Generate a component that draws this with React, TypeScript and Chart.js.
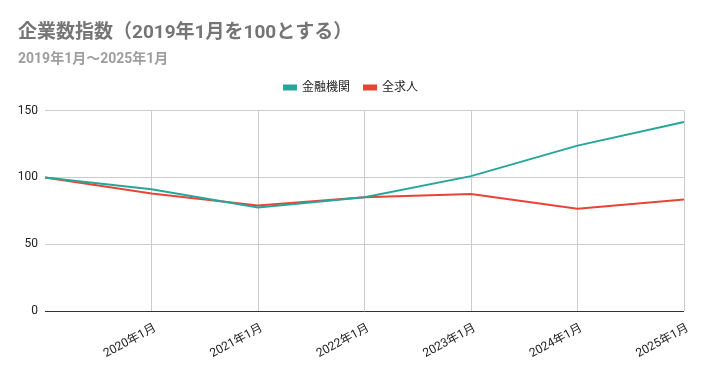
import React, { useEffect, useRef } from "react";
import { Chart, registerables } from "chart.js";

Chart.register(...registerables);

const categories = ["2019年1月", "2020年1月", "2021年1月", "2022年1月", "2023年1月", "2024年1月", "2025年1月"];
const finance = [100, 91.2, 77.6, 85.2, 101, 123.8, 141.4];
const allJobs = [100, 88, 79.1, 85.2, 87.7, 76.6, 83.6];
const yTicks = [0, 50, 100, 150];
const titleText = "企業数指数（2019年1月を100とする）";
const subtitleText = "2019年1月～2025年1月";

const FONT = "Roboto, 'Noto Sans CJK JP', Arial, sans-serif";

const legendSpacer = {
  id: "legendSpacer",
  beforeInit(chart: any) {
    const orig = chart.legend.fit;
    chart.legend.fit = function () {
      orig.bind(chart.legend)();
      this.height += 7;
    };
  },
};

export default function App() {
  const ref = useRef<HTMLCanvasElement>(null);
  useEffect(() => {
    document.body.style.margin = "0";
    const chart = new Chart(ref.current!, {
      type: "line",
      data: {
        labels: categories,
        datasets: [
          { label: "金融機関", data: finance, borderColor: "#26a69a", backgroundColor: "#26a69a", borderWidth: 2, pointRadius: 0, tension: 0 },
          { label: "全求人", data: allJobs, borderColor: "#ea4335", backgroundColor: "#ea4335", borderWidth: 2, pointRadius: 0, tension: 0 },
        ],
      },
      plugins: [legendSpacer],
      options: {
        responsive: false,
        animation: false,
        layout: { padding: { left: 18, right: 20, top: 10, bottom: 0 } },
        plugins: {
          title: {
            display: true,
            text: titleText,
            align: "start",
            color: "#757575",
            font: { family: FONT, size: 19, weight: "bold" },
            padding: { top: 12, bottom: 6 },
          },
          subtitle: {
            display: true,
            text: subtitleText,
            align: "start",
            color: "#9e9e9e",
            font: { family: FONT, size: 14, weight: "bold" },
            padding: { bottom: 0 },
          },
          legend: {
            position: "top",
            labels: {
              boxWidth: 12,
              boxHeight: 4,
              color: "#222222",
              font: { family: FONT, size: 12 },
              padding: 14,
            },
          },
          tooltip: { enabled: false },
        },
        scales: {
          x: {
            offset: false,
            grid: {
              color: (ctx: any) => (ctx.index === 0 ? "rgba(0,0,0,0)" : "#cccccc"),
              drawTicks: false,
            },
            border: { display: false },
            ticks: {
              color: "#222222",
              font: { family: FONT, size: 12 },
              maxRotation: 28,
              minRotation: 28,
              padding: 10,
              labelOffset: 4,
              autoSkip: false,
              callback: (_v: any, i: number) => (i === 0 ? "" : categories[i]),
            },
          },
          y: {
            min: 0,
            max: 150,
            afterBuildTicks: (axis: any) => {
              axis.ticks = yTicks.map((v) => ({ value: v }));
            },
            afterFit: (axis: any) => {
              axis.width = 27;
            },
            grid: {
              color: (ctx: any) => (ctx.tick && ctx.tick.value === 0 ? "#333333" : "#cccccc"),
              drawTicks: false,
            },
            border: { display: false },
            ticks: {
              color: "#222222",
              font: { family: FONT, size: 12 },
              padding: 7,
            },
          },
        },
      },
    });
    return () => chart.destroy();
  }, []);
  return <canvas ref={ref} width={704} height={371} style={{ display: "block" }} />;
}
